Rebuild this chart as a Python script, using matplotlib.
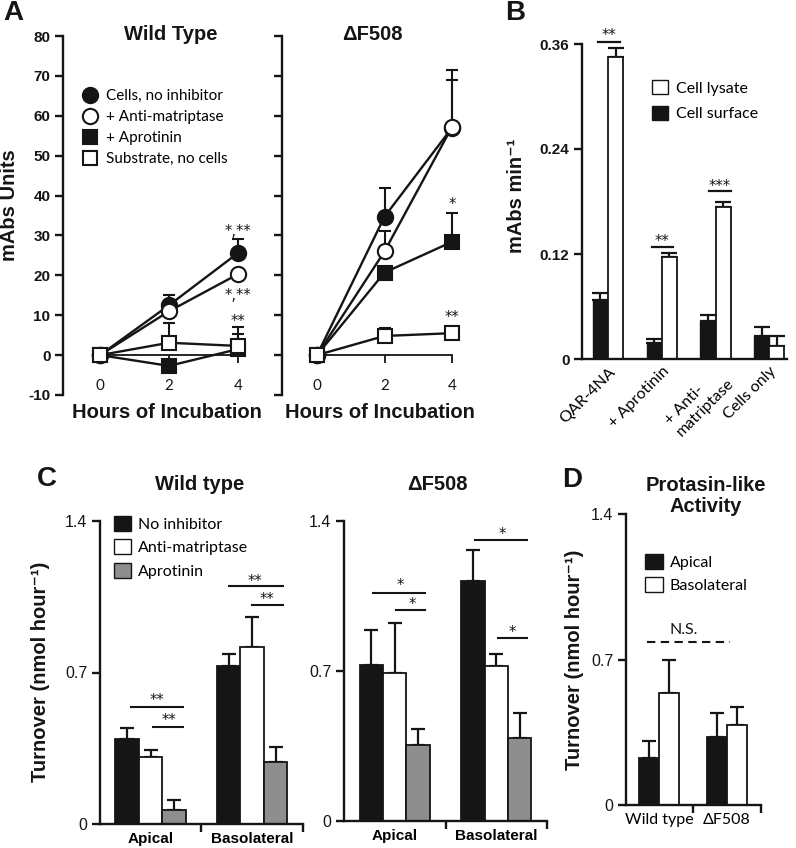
import matplotlib
matplotlib.use('Agg')
import matplotlib.pyplot as plt
from matplotlib.lines import Line2D
from matplotlib.patches import Patch
import numpy as np

# ---------------- data ----------------
hours = [0, 2, 4]
a_series = ['Cells, no inhibitor', '+ Anti-matriptase', '+ Aprotinin', 'Substrate, no cells']
wt_cells = [0, 12.5, 25.6]
wt_cells_err = [0, 2.5, 3.4]
wt_anti = [0, 11.0, 20.3]
wt_anti_err = [0, 0, 0]
wt_apro = [0, -2.7, 1.5]
wt_apro_err = [0, 0, 3.8]
wt_sub = [0, 3.1, 2.3]
wt_sub_err = [0, 4.9, 4.8]
df_cells = [0, 34.7, 57.0]
df_cells_err = [0, 7.1, 14.4]
df_anti = [0, 26.0, 57.2]
df_anti_err = [0, 5.2, 11.8]
df_apro = [0, 20.7, 28.4]
df_apro_err = [0, 0, 7.3]
df_sub = [0, 4.8, 5.5]
df_sub_err = [0, 1.9, 0]
a_yticks = [-10, 0, 10, 20, 30, 40, 50, 60, 70, 80]

b_categories = ['QAR-4NA', '+ Aprotinin', '+ Anti-\nmatriptase', 'Cells only']
b_surface = [0.0675, 0.0187, 0.0439, 0.0263]
b_surface_err = [0.0075, 0.0043, 0.0061, 0.0107]
b_lysate = [0.345, 0.117, 0.1735, 0.0153]
b_lysate_err = [0.010, 0.0047, 0.0065, 0.0114]
b_yticks = [0, 0.12, 0.24, 0.36]
b_ytick_labels = ['0', '0.12', '0.24', '0.36']

c_groups = ['Apical', 'Basolateral']
c_series = ['No inhibitor', 'Anti-matriptase', 'Aprotinin']
c_wt_none = [0.394, 0.728]
c_wt_none_err = [0.049, 0.057]
c_wt_anti = [0.308, 0.817]
c_wt_anti_err = [0.035, 0.138]
c_wt_apro = [0.063, 0.288]
c_wt_apro_err = [0.049, 0.067]
c_df_none = [0.726, 1.118]
c_df_none_err = [0.164, 0.145]
c_df_anti = [0.690, 0.725]
c_df_anti_err = [0.235, 0.055]
c_df_apro = [0.356, 0.386]
c_df_apro_err = [0.074, 0.117]
c_yticks = [0, 0.7, 1.4]
c_ytick_labels = ['0', '0.7', '1.4']

d_groups = ['Wild type', '\u0394F508']
d_series = ['Apical', 'Basolateral']
d_apical = [0.228, 0.329]
d_apical_err = [0.080, 0.112]
d_baso = [0.541, 0.384]
d_baso_err = [0.159, 0.089]

# ---------------- layout helpers ----------------
W, H = 796, 848
fig = plt.figure(figsize=(W / 100, H / 100), dpi=100)
ARIAL = ['Liberation Sans', 'DejaVu Sans']
CALI = ['Lato', 'DejaVu Sans']
STAR = ['DejaVu Sans']
INK = '#151515'
GRAY = '#8e8e8e'


def px_axes(x0, y0, x1, y1):
    return fig.add_axes([x0 / W, 1 - y1 / H, (x1 - x0) / W, (y1 - y0) / H])


def ftext(x, y, s, **kw):
    kw.setdefault('ha', 'center')
    kw.setdefault('va', 'center')
    fig.text(x / W, 1 - y / H, s, **kw)


def base_style(ax, lw=1.6):
    for s in ['top', 'right']:
        ax.spines[s].set_visible(False)
    for s in ['left', 'bottom']:
        ax.spines[s].set_linewidth(lw)
        ax.spines[s].set_color(INK)
    ax.patch.set_alpha(0)


def up_err(ax, x, y, e, capsize, lw=1.5, z=1):
    x = np.asarray(x, float); y = np.asarray(y, float); e = np.asarray(e, float)
    m = e > 0
    if m.any():
        ax.errorbar(x[m], y[m], yerr=[np.zeros(m.sum()), e[m]], fmt='none',
                    ecolor=INK, elinewidth=lw, capsize=capsize, capthick=lw, zorder=z)


def star(ax, x, y, s, size=10.5):
    # y is the vertical centre of the asterisks
    ax.annotate(s, (x, y), xytext=(0, -0.57 * size), textcoords='offset points',
                ha='center', va='baseline', fontfamily=STAR, fontsize=size, color=INK,
                annotation_clip=False)


# ---------------- Panel A ----------------
a_styles = [
    dict(marker='o', mfc=INK, ms=11),
    dict(marker='o', mfc='white', ms=11),
    dict(marker='s', mfc=INK, ms=9.5),
    dict(marker='s', mfc='white', ms=9.5),
]
draw_order = [0, 2, 1, 3]


def panel_A(ax, vals, errs, left_px, x0_px, unit_px, width_px, show_labels):
    ax.set_ylim(-10, 80)
    xl = -(x0_px - left_px) / unit_px
    ax.set_xlim(xl, xl + width_px / unit_px)
    base_style(ax, 1.7)
    ax.spines['bottom'].set_position(('data', 0))
    ax.spines['bottom'].set_bounds(0, 4)
    ax.spines['bottom'].set_linewidth(1.3)
    ax.set_xticks(hours)
    ax.set_xticklabels([str(h) for h in hours], fontfamily=CALI, fontsize=11)
    ax.tick_params(axis='x', direction='out', length=6, width=1.3, pad=11, colors=INK)
    ax.set_yticks(a_yticks)
    if show_labels:
        ax.set_yticklabels([str(t) for t in a_yticks], fontfamily=ARIAL,
                           fontweight='bold', fontsize=11)
    else:
        ax.set_yticklabels([])
    ax.tick_params(axis='y', direction='out', length=6, width=1.7, pad=3, colors=INK)
    for k, i in enumerate(draw_order):
        up_err(ax, hours, vals[i], errs[i], capsize=4.5, lw=1.5, z=1)
    for k, i in enumerate(draw_order):
        st = a_styles[i]
        ax.plot(hours, vals[i], color=INK, lw=1.7, marker=st['marker'],
                mfc=st['mfc'], mec=INK, mew=1.5, ms=st['ms'], zorder=3 + k, clip_on=False)


axA1 = px_axes(63, 36, 263, 395)
panel_A(axA1, [wt_cells, wt_anti, wt_apro, wt_sub],
        [wt_cells_err, wt_anti_err, wt_apro_err, wt_sub_err], 63, 100, 34.5, 200, True)
axA2 = px_axes(282, 36, 480, 395)
panel_A(axA2, [df_cells, df_anti, df_apro, df_sub],
        [df_cells_err, df_anti_err, df_apro_err, df_sub_err], 282, 317, 33.75, 198, False)

star(axA1, 4, 32.0, '*,**')
star(axA1, 4, 16.0, '*,**')
star(axA1, 4, 9.5, '**')
star(axA2, 4, 38.8, '*')
star(axA2, 4, 10.5, '**')

a_handles = [Line2D([], [], ls='none', marker=a_styles[i]['marker'], mfc=a_styles[i]['mfc'],
                    mec=INK, mew=1.5, ms=a_styles[i]['ms']) for i in range(4)]
axA1.legend(a_handles, a_series, loc='upper left', bbox_to_anchor=(82 / W, 1 - 89 / H),
            bbox_transform=fig.transFigure, frameon=False, borderpad=0, borderaxespad=0,
            handlelength=1.0, handletextpad=0.55, labelspacing=0.46,
            prop=dict(family=CALI, size=11))

title_kw = dict(fontfamily=ARIAL, fontweight='bold', fontsize=14.5, color=INK)
ftext(171, 34, 'Wild Type', **title_kw)
ftext(372, 34, '\u0394F508', **title_kw)
ftext(167, 413, 'Hours of Incubation', **title_kw)
ftext(380, 413, 'Hours of Incubation', **title_kw)
ftext(10, 205, 'mAbs Units', rotation=90, **title_kw)

letter_kw = dict(fontfamily=ARIAL, fontweight='bold', fontsize=20, color=INK)
ftext(13, 13, 'A', **letter_kw)
ftext(515, 13, 'B', **letter_kw)
ftext(47, 479, 'C', **letter_kw)
ftext(572, 480, 'D', **letter_kw)

# ---------------- Panel B ----------------
axB = px_axes(582, 44, 787, 359)
base_style(axB, 1.7)
axB.set_ylim(0, 0.36)
axB.set_xlim(-0.484, 3.33)
axB.spines['left'].set_bounds(0, 0.36)
bx = np.arange(len(b_categories))
bw = 0.28
axB.bar(bx - bw / 2, b_surface, bw, color=INK, edgecolor=INK, lw=1.0, zorder=2)
axB.bar(bx + bw / 2, b_lysate, bw, color='white', edgecolor=INK, lw=1.3, zorder=2)
up_err(axB, bx - bw / 2, b_surface, b_surface_err, capsize=6, lw=1.6, z=1)
up_err(axB, bx + bw / 2, b_lysate, b_lysate_err, capsize=6, lw=1.6, z=1)
axB.set_yticks(b_yticks)
axB.set_yticklabels(b_ytick_labels, fontfamily=ARIAL, fontweight='bold', fontsize=11)
axB.tick_params(axis='y', direction='out', length=6, width=1.7, pad=3, colors=INK)
axB.set_xticks(bx)
axB.set_xticklabels(b_categories, fontfamily=CALI, fontsize=11.5, rotation=45,
                    ha='right', va='top', rotation_mode='anchor', multialignment='left')
axB.tick_params(axis='x', length=0, pad=4)
b_sig = [(0, -0.19, 0.22, 0.362, 0.374, '**'), (1, -0.19, 0.21, 0.128, 0.139, '**'),
         (2, -0.12, 0.28, 0.192, 0.202, '***')]
for g, l, r, yy, ys, s in b_sig:
    axB.plot([g + l, g + r], [yy, yy], color=INK, lw=1.6, clip_on=False)
    star(axB, g + (l + r) / 2, ys, s)
b_handles = [Patch(facecolor='white', edgecolor=INK, lw=1.0),
             Patch(facecolor=INK, edgecolor=INK, lw=1.0)]
axB.legend(b_handles, ['Cell lysate', 'Cell surface'], loc='upper left',
           bbox_to_anchor=(652 / W, 1 - 80 / H), bbox_transform=fig.transFigure,
           frameon=False, borderpad=0, borderaxespad=0, handlelength=1.0, handleheight=1.0,
           handletextpad=0.5, labelspacing=0.62, prop=dict(family=CALI, size=11.5))
ftext(517, 196, 'mAbs min\u207b\u00b9', rotation=90, **title_kw)


# ---------------- Panel C ----------------
def bar_panel(ax, groups, series_vals, series_errs, colors, bw, xl):
    base_style(ax, 1.7)
    ax.set_ylim(0, 1.4)
    ax.set_xlim(*xl)
    gx = np.arange(len(groups))
    n = len(series_vals)
    for k in range(n):
        off = (k - (n - 1) / 2) * bw
        ax.bar(gx + off, series_vals[k], bw, color=colors[k], edgecolor=INK, lw=1.3, zorder=2)
        up_err(ax, gx + off, series_vals[k], series_errs[k], capsize=5, lw=1.6, z=1)
    ax.set_yticks(c_yticks)
    ax.set_yticklabels(c_ytick_labels, fontfamily=ARIAL, fontsize=11.5)
    ax.tick_params(axis='y', direction='out', length=6, width=1.7, pad=3, colors=INK)
    ax.set_xticks(gx)
    ax.set_xticks(list(gx[:-1] + 0.5) + [xl[1]], minor=True)
    ax.tick_params(axis='x', which='major', length=0, pad=6)
    ax.tick_params(axis='x', which='minor', direction='out', length=6, width=1.7, colors=INK)
    return gx


c_colors = [INK, 'white', GRAY]
axC1 = px_axes(100, 521, 303, 824)
bar_panel(axC1, c_groups, [c_wt_none, c_wt_anti, c_wt_apro],
          [c_wt_none_err, c_wt_anti_err, c_wt_apro_err], c_colors, 0.23, (-0.497, 1.5))
axC1.set_xticklabels(c_groups, fontfamily=ARIAL, fontweight='bold', fontsize=11)

axC2 = px_axes(344, 521, 547, 821)
bar_panel(axC2, c_groups, [c_df_none, c_df_anti, c_df_apro],
          [c_df_none_err, c_df_anti_err, c_df_apro_err], c_colors, 0.23, (-0.5, 1.5))
axC2.set_xticklabels(c_groups, fontfamily=ARIAL, fontweight='bold', fontsize=11)


def sig(ax, l, r, yy, s, tx, ty):
    ax.plot([l, r], [yy, yy], color=INK, lw=1.5, clip_on=False)
    star(ax, tx, ty, s)


sig(axC1, -0.19, 0.32, 0.54, '**', 0.06, 0.587)
sig(axC1, 0.025, 0.32, 0.448, '**', 0.18, 0.494)
sig(axC1, 0.77, 1.30, 1.10, '**', 1.03, 1.14)
sig(axC1, 1.00, 1.30, 1.01, '**', 1.15, 1.054)
sig(axC2, -0.21, 0.30, 1.065, '*', 0.05, 1.115)
sig(axC2, 0.01, 0.30, 0.983, '*', 0.17, 1.03)
sig(axC2, 0.79, 1.30, 1.31, '*', 1.06, 1.355)
sig(axC2, 1.02, 1.30, 0.853, '*', 1.16, 0.897)

c_handles = [Patch(facecolor=c, edgecolor=INK, lw=1.0) for c in c_colors]
axC1.legend(c_handles, c_series, loc='upper left', bbox_to_anchor=(114 / W, 1 - 516 / H),
            bbox_transform=fig.transFigure, frameon=False, borderpad=0, borderaxespad=0,
            handlelength=1.05, handleheight=1.05, handletextpad=0.45, labelspacing=0.47,
            prop=dict(family=CALI, size=11.5))

ftext(200, 484, 'Wild type', **title_kw)
ftext(437, 484, '\u0394F508', **title_kw)
ftext(41, 672, 'Turnover (nmol hour\u207b\u00b9)', rotation=90, **title_kw)

# ---------------- Panel D ----------------
axD = px_axes(626, 514, 761, 805)
bar_panel(axD, d_groups, [d_apical, d_baso], [d_apical_err, d_baso_err],
          [INK, 'white'], 0.29, (-0.485, 1.5))
axD.set_xticklabels(d_groups, fontfamily=CALI, fontsize=11.5)
axD.plot([-0.18, 1.04], [0.782, 0.782], color=INK, lw=1.5, ls=(0, (4, 2.6)))
axD.text(0.37, 0.84, 'N.S.', fontfamily=CALI, fontsize=11.5, ha='center', va='center', color=INK)
d_handles = [Patch(facecolor=c, edgecolor=INK, lw=1.0) for c in [INK, 'white']]
axD.legend(d_handles, d_series, loc='upper left', bbox_to_anchor=(645 / W, 1 - 554 / H),
           bbox_transform=fig.transFigure, frameon=False, borderpad=0, borderaxespad=0,
           handlelength=1.1, handleheight=1.1, handletextpad=0.45, labelspacing=0.42,
           prop=dict(family=CALI, size=11.5))
ftext(706, 496, 'Protasin-like\nActivity', linespacing=1.15, **title_kw)
ftext(574, 660, 'Turnover (nmol hour\u207b\u00b9)', rotation=90, **title_kw)

fig.savefig('out.png', dpi=100)
